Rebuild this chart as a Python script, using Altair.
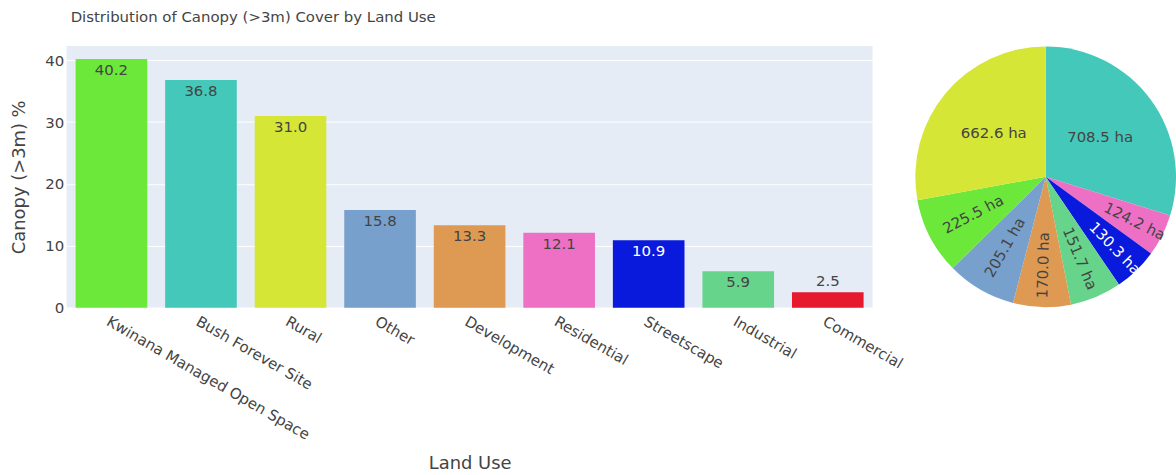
import altair as alt
import pandas as pd

# ---- data -------------------------------------------------------------
categories = ["Kwinana Managed Open Space", "Bush Forever Site", "Rural", "Other",
              "Development", "Residential", "Streetscape", "Industrial", "Commercial"]
canopy_pct = [40.2, 36.8, 31.0, 15.8, 13.3, 12.1, 10.9, 5.9, 2.5]
bar_colors = ["#6BE83A", "#44C8BA", "#D6E636", "#78A0CC", "#DE9A52",
              "#EE70C4", "#0A1ADC", "#66D48A", "#E6192E"]

pie_categories = ["Bush Forever Site", "Residential", "Streetscape", "Industrial",
                  "Development", "Other", "Kwinana Managed Open Space", "Rural"]
pie_ha = [708.5, 124.2, 130.3, 151.7, 170.0, 205.1, 225.5, 662.6]

FONT = "DejaVu Sans"
TXT = "#444444"
FS = 15

bar_df = pd.DataFrame({"cat": categories, "pct": canopy_pct})
pie_df = pd.DataFrame({"cat": pie_categories, "ha": pie_ha,
                       "ord": list(range(len(pie_categories)))})

color_scale = alt.Scale(domain=categories, range=bar_colors)

# ---- bar chart --------------------------------------------------------
x_enc = alt.X("cat:N", sort=None, title="Land Use",
              scale=alt.Scale(paddingInner=0.2, paddingOuter=0.1),
              axis=alt.Axis(labelAngle=30, labelAlign="left", labelBaseline="top",
                            labelPadding=6, labelFontSize=FS, labelColor=TXT,
                            titleFontSize=18, titleFontWeight="normal", titleColor=TXT,
                            titlePadding=12, ticks=False, domain=False, grid=False,
                            labelLimit=400))
y_enc = alt.Y("pct:Q", title="Canopy (>3m) %",
              scale=alt.Scale(domain=[0, 42.3], nice=False),
              axis=alt.Axis(values=[0, 10, 20, 30, 40], labelFontSize=FS, labelColor=TXT,
                            labelPadding=3, titleFontSize=18, titleFontWeight="normal",
                            titleColor=TXT, titlePadding=16, ticks=False, domain=False,
                            grid=True, gridColor="white", gridWidth=1))

base = alt.Chart(bar_df).encode(x=x_enc, y=y_enc)

bars = base.mark_bar().encode(
    color=alt.Color("cat:N", scale=color_scale, legend=None))

txt_in = base.transform_filter("datum.pct >= 4").mark_text(
    baseline="top", dy=4, fontSize=FS, font=FONT).encode(
    text=alt.Text("pct:Q", format=".1f"),
    color=alt.condition("datum.cat == 'Streetscape'", alt.value("white"), alt.value(TXT)))

txt_out = base.transform_filter("datum.pct < 4").mark_text(
    baseline="bottom", dy=-3, fontSize=FS, font=FONT, color=TXT).encode(
    text=alt.Text("pct:Q", format=".1f"))

bar_chart = alt.layer(bars, txt_in, txt_out).properties(
    width=810, height=263,
    view=alt.ViewBackground(fill="#E5ECF6", stroke=None),
    title=alt.TitleParams("Distribution of Canopy (>3m) Cover by Land Use",
                          anchor="start", frame="group", fontSize=FS,
                          fontWeight="normal", color=TXT, font=FONT, dx=4, offset=21))

# ---- pie chart --------------------------------------------------------
arcs = alt.Chart(pie_df).mark_arc(outerRadius=131).encode(
    theta=alt.Theta("ha:Q", stack=True),
    order=alt.Order("ord:Q", sort="ascending"),
    color=alt.Color("cat:N", scale=color_scale, legend=None))

pie_text = alt.Chart(pie_df).transform_joinaggregate(total="sum(ha)").transform_window(
    cum="sum(ha)", sort=[alt.SortField("ord", order="ascending")],
    frame=[None, 0]).transform_calculate(
    frac="datum.ha / datum.total",
    cmid="datum.cum - datum.ha / 2",
    mid="(datum.cum - datum.ha / 2) / datum.total * 360").transform_calculate(
    rad="datum.mid - 90 > 90 ? datum.mid - 270 : datum.mid - 90",
    r="datum.frac > 0.2 ? 68 : (datum.frac > 0.08 ? 82 : (datum.frac > 0.06 ? 89 : 100))"
).transform_calculate(
    ang="datum.frac > 0.2 ? 0 : (datum.rad + 360) % 360",
    lab="format(datum.ha, '.1f') + ' ha'").mark_text(
    fontSize=FS, font=FONT).encode(
    theta=alt.Theta("cmid:Q", stack=False),
    text="lab:N",
    radius=alt.Radius("r:Q", scale=None),
    angle=alt.Angle("ang:Q", scale=None),
    color=alt.condition("datum.cat == 'Streetscape'", alt.value("white"), alt.value(TXT)))

pie_chart = alt.layer(arcs, pie_text).properties(width=256, height=263)

chart = alt.hconcat(bar_chart, pie_chart, spacing=46, bounds="flush").properties(
    padding={"left": 10, "top": 9, "right": 0, "bottom": 0}
).configure(font=FONT).configure_view(stroke=None)

chart.save("out.html", embed_options={"renderer": "svg", "actions": False})
